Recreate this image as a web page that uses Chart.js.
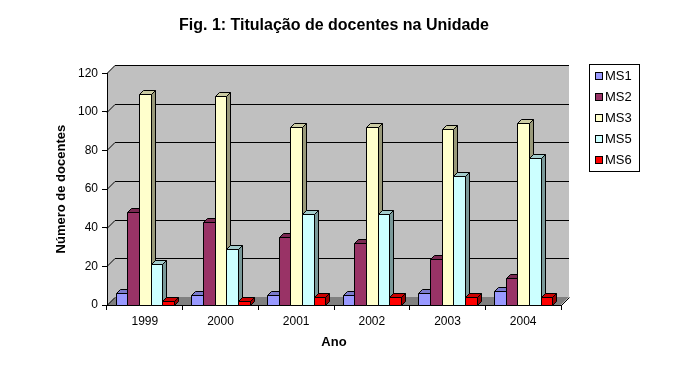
<!DOCTYPE html>
<html>
<head>
<meta charset="utf-8">
<script src="https://cdn.jsdelivr.net/npm/chart.js@4/dist/chart.umd.min.js"></script>
<style>
  html, body { margin: 0; padding: 0; background: #fff; }
  #c { display: block; }
</style>
</head>
<body>
<canvas id="c" width="673" height="376"></canvas>
<script>
const chartTitle = 'Fig. 1: Titulação de docentes na Unidade';
const xTitle = 'Ano';
const yTitle = 'Número de docentes';
const categories = ['1999', '2000', '2001', '2002', '2003', '2004'];
const seriesNames = ['MS1', 'MS2', 'MS3', 'MS5', 'MS6'];
const ms1 = [6, 5, 5, 5, 6, 7];
const ms2 = [48, 43, 35, 32, 24, 14];
const ms3 = [109, 108, 92, 92, 91, 94];
const ms5 = [21, 29, 47, 47, 67, 76];
const ms6 = [2, 2, 4, 4, 4, 4];
const seriesColors = ['#9999FF', '#993366', '#FFFFCC', '#CCFFFF', '#FF0000'];
const yMin = 0, yMax = 120, yStep = 20;

const FONT = '"Liberation Sans", Arial, sans-serif';
const WALL_DEPTH = 8;
const BAR_DEPTH = 4;

function shade(hex, f) {
  const n = parseInt(hex.slice(1), 16);
  const r = Math.round(((n >> 16) & 255) * f);
  const g = Math.round(((n >> 8) & 255) * f);
  const b = Math.round((n & 255) * f);
  return 'rgb(' + r + ',' + g + ',' + b + ')';
}

function poly(ctx, pts, fill, stroke) {
  ctx.beginPath();
  ctx.moveTo(pts[0][0], pts[0][1]);
  for (let i = 1; i < pts.length; i++) ctx.lineTo(pts[i][0], pts[i][1]);
  ctx.closePath();
  if (fill) { ctx.fillStyle = fill; ctx.fill(); }
  if (stroke) { ctx.strokeStyle = stroke; ctx.lineWidth = 1; ctx.stroke(); }
}

const threeD = {
  id: 'threeD',
  beforeDraw(chart) {
    const { ctx, chartArea: a, scales: { y } } = chart;
    const D = WALL_DEPTH;
    const L = Math.round(a.left), R = Math.round(a.right), T = Math.round(a.top), B = Math.round(a.bottom);
    ctx.save();
    ctx.fillStyle = '#C0C0C0';
    ctx.fillRect(L + D, T - D, R - L, B - T);
    poly(ctx, [[L, T], [L + D, T - D], [L + D, B - D], [L, B]], '#C0C0C0');
    poly(ctx, [[L, B], [R, B], [R + D, B - D], [L + D, B - D]], '#808080');
    ctx.strokeStyle = '#000';
    ctx.lineWidth = 1;
    y.ticks.forEach(t => {
      const py = Math.round(y.getPixelForValue(t.value)) + 0.5;
      ctx.beginPath();
      ctx.moveTo(L, py);
      ctx.lineTo(L + D, py - D);
      if (t.value !== yMin) ctx.lineTo(R + D, py - D);
      ctx.stroke();
    });
    ctx.beginPath();
    ctx.moveTo(R + 0.5, B + 0.5);
    ctx.lineTo(R + D + 0.5, B - D + 0.5);
    ctx.stroke();
    ctx.restore();
  },
  beforeDatasetsDraw(chart) {
    const { ctx } = chart;
    const d = BAR_DEPTH;
    const metas = chart.data.datasets.map((ds, i) => chart.getDatasetMeta(i));
    ctx.save();
    ctx.lineWidth = 1;
    for (let c = 0; c < categories.length; c++) {
      metas.forEach((meta, i) => {
        const el = meta.data[c];
        if (!el) return;
        const p = el.getProps(['x', 'y', 'base', 'width'], true);
        const xl = Math.round(p.x - p.width / 2) + 0.5;
        const xr = Math.round(p.x + p.width / 2) + 0.5;
        const yt = Math.round(p.y) + 0.5;
        const yb = Math.round(p.base) + 0.5;
        const col = chart.data.datasets[i].backgroundColor;
        poly(ctx, [[xr, yt], [xr + d, yt - d], [xr + d, yb - d], [xr, yb]], shade(col, 0.6), '#000');
        poly(ctx, [[xl, yt], [xl + d, yt - d], [xr + d, yt - d], [xr, yt]], shade(col, 0.8), '#000');
        poly(ctx, [[xl, yt], [xr, yt], [xr, yb], [xl, yb]], col, '#000');
      });
    }
    ctx.restore();
    return false;
  },
  afterDraw(chart) {
    const { ctx } = chart;
    ctx.save();
    const bx = 589.5, by = 64.5, bw = 50, bh = 107;
    ctx.fillStyle = '#fff';
    ctx.fillRect(bx, by, bw, bh);
    ctx.strokeStyle = '#000';
    ctx.lineWidth = 1;
    ctx.strokeRect(bx, by, bw, bh);
    ctx.font = '13px ' + FONT;
    ctx.textBaseline = 'middle';
    ctx.textAlign = 'left';
    chart.data.datasets.forEach((ds, i) => {
      const cy = 76 + i * 21;
      ctx.fillStyle = ds.backgroundColor;
      ctx.fillRect(595.5, cy - 3.5, 7, 7);
      ctx.strokeRect(595.5, cy - 3.5, 7, 7);
      ctx.fillStyle = '#000';
      ctx.fillText(ds.label, 605, cy + 0.5);
    });
    ctx.restore();
  }
};

const seriesValues = [ms1, ms2, ms3, ms5, ms6];

new Chart(document.getElementById('c'), {
  type: 'bar',
  data: {
    labels: categories,
    datasets: seriesNames.map((name, i) => ({
      label: name,
      data: seriesValues[i],
      backgroundColor: seriesColors[i],
      borderColor: '#000',
      borderWidth: 1,
      categoryPercentage: 0.77,
      barPercentage: 1.0
    }))
  },
  options: {
    responsive: false,
    animation: false,
    devicePixelRatio: 1,
    layout: { padding: { left: 0, right: 112, top: 0, bottom: 0 } },
    plugins: {
      legend: { display: false },
      tooltip: { enabled: false },
      title: {
        display: true,
        fullSize: false,
        text: chartTitle,
        color: '#000',
        font: { family: FONT, size: 16, weight: 'bold' },
        padding: { top: 16, bottom: 38 }
      }
    },
    scales: {
      x: {
        type: 'category',
        offset: true,
        grid: { display: true, offset: true, drawOnChartArea: false, drawTicks: true, tickLength: 5, color: '#000' },
        border: { display: true, color: '#000' },
        ticks: { color: '#000', font: { family: FONT, size: 12 }, padding: 4, maxRotation: 0 },
        title: { display: true, text: xTitle, color: '#000', font: { family: FONT, size: 13, weight: 'bold' }, padding: { top: 0, bottom: 26 } },
        afterFit(s) { s.height = 71; }
      },
      y: {
        min: yMin,
        max: yMax,
        ticks: { stepSize: yStep, color: '#000', font: { family: FONT, size: 12 }, padding: 4 },
        grid: { display: true, drawOnChartArea: false, drawTicks: true, tickLength: 5, color: '#000' },
        border: { display: true, color: '#000' },
        title: { display: true, text: yTitle, color: '#000', font: { family: FONT, size: 13, weight: 'bold' }, padding: { top: 54, bottom: 0 } },
        afterFit(s) { s.width = 107; }
      }
    }
  },
  plugins: [threeD]
});
</script>
</body>
</html>
